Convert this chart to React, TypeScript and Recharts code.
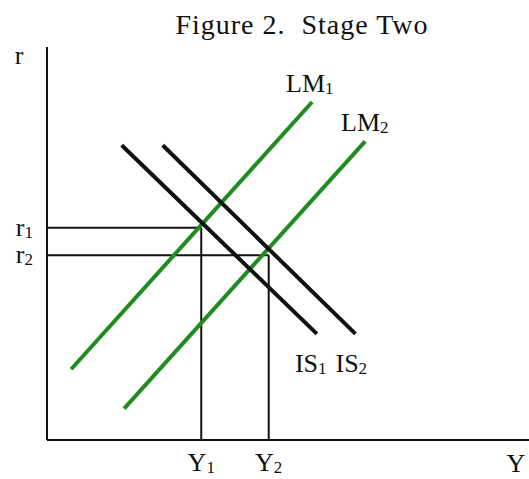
import { LineChart, Line, XAxis, YAxis, ReferenceLine, ReferenceDot, Label } from "recharts";

// curve end points (x = output Y, y = interest rate r)
const lm1 = [
  { x: 5, y: 18 },
  { x: 55, y: 86 },
];
const lm2 = [
  { x: 16, y: 8 },
  { x: 66, y: 76 },
];
const is1 = [
  { x: 15.5, y: 75 },
  { x: 56, y: 27 },
];
const is2 = [
  { x: 24, y: 75 },
  { x: 64, y: 27 },
];

// equilibrium levels
const yLevels = [32, 46];
const yNames = ["1", "2"];
const rLevels = [54, 47];
const rNames = ["1", "2"];

const title = "Figure 2.  Stage Two";
const font = "'Liberation Serif', 'DejaVu Serif', serif";
const green = "#1f8c1f";
const labelSize = 26;
const subSize = 17;

function Sub({ x, y, base, sub, anchor = "start" }: any) {
  return (
    <text x={x} y={y} textAnchor={anchor} fontFamily={font} fontSize={labelSize} fill="#111">
      <tspan>{base}</tspan>
      <tspan fontSize={subSize} dy={2}>
        {sub}
      </tspan>
    </text>
  );
}

function XTick({ x, y, payload }: any) {
  const i = yLevels.indexOf(payload.value);
  return <Sub x={x} y={y + 23} base="Y" sub={yNames[i]} anchor="middle" />;
}

function YTick({ x, y, payload }: any) {
  const i = rLevels.indexOf(payload.value);
  return <Sub x={x - 6} y={y + 8} base="r" sub={rNames[i]} anchor="end" />;
}

function curveLabel(base: string, sub: string, dx: number, dy: number) {
  return (props: any) => {
    const vb = props.viewBox;
    return <Sub x={vb.x + dx} y={vb.y + dy} base={base} sub={sub} />;
  };
}

export default function App() {
  return (
    <div style={{ position: "absolute", left: 0, top: 0, width: 529, height: 479, background: "#fff" }}>
      <div
        style={{
          position: "absolute",
          left: 0,
          width: 604,
          top: 9,
          textAlign: "center",
          fontFamily: font,
          fontSize: 28,
          letterSpacing: 1,
          color: "#111",
          whiteSpace: "pre",
          lineHeight: "32px",
        }}
      >
        {title}
      </div>
      <LineChart width={529} height={479} margin={{ top: 47, right: 0, bottom: 0, left: 0 }}>
        <XAxis
          type="number"
          dataKey="x"
          domain={[0, 100]}
          ticks={yLevels}
          tick={<XTick />}
          tickLine={false}
          axisLine={{ stroke: "#111", strokeWidth: 2 }}
          height={39}
          allowDataOverflow
        >
          <Label
            content={(props: any) => {
              const vb = props.viewBox;
              return (
                <text x={vb.x + vb.width - 13} y={vb.y + 32} textAnchor="middle" fontFamily={font} fontSize={labelSize} fill="#111">
                  Y
                </text>
              );
            }}
          />
        </XAxis>
        <YAxis
          type="number"
          domain={[0, 100]}
          ticks={rLevels}
          tick={<YTick />}
          tickLine={false}
          axisLine={{ stroke: "#111", strokeWidth: 2 }}
          width={47}
          allowDataOverflow
        >
          <Label
            content={(props: any) => {
              const vb = props.viewBox;
              return (
                <text x={vb.x + 19} y={vb.y + 17} textAnchor="middle" fontFamily={font} fontSize={labelSize} fill="#111">
                  r
                </text>
              );
            }}
          />
        </YAxis>

        <ReferenceLine segment={[{ x: 0, y: rLevels[0] }, { x: yLevels[0], y: rLevels[0] }]} stroke="#111" strokeWidth={2} />
        <ReferenceLine segment={[{ x: yLevels[0], y: 0 }, { x: yLevels[0], y: rLevels[0] }]} stroke="#111" strokeWidth={2} />
        <ReferenceLine segment={[{ x: 0, y: rLevels[1] }, { x: yLevels[1], y: rLevels[1] }]} stroke="#111" strokeWidth={2} />
        <ReferenceLine segment={[{ x: yLevels[1], y: 0 }, { x: yLevels[1], y: rLevels[1] }]} stroke="#111" strokeWidth={2} />

        <Line data={lm1} dataKey="y" stroke={green} strokeWidth={4} dot={false} isAnimationActive={false} />
        <Line data={lm2} dataKey="y" stroke={green} strokeWidth={4} dot={false} isAnimationActive={false} />
        <Line data={is1} dataKey="y" stroke="#111" strokeWidth={4} dot={false} isAnimationActive={false} />
        <Line data={is2} dataKey="y" stroke="#111" strokeWidth={4} dot={false} isAnimationActive={false} />

        <ReferenceDot x={lm1[1].x} y={lm1[1].y} r={0} stroke="none" label={curveLabel("LM", "1", -26, -10)} />
        <ReferenceDot x={lm2[1].x} y={lm2[1].y} r={0} stroke="none" label={curveLabel("LM", "2", -24, -10)} />
        <ReferenceDot x={is1[1].x} y={is1[1].y} r={0} stroke="none" label={curveLabel("IS", "1", -22, 38)} />
        <ReferenceDot x={is2[1].x} y={is2[1].y} r={0} stroke="none" label={curveLabel("IS", "2", -20, 38)} />
      </LineChart>
    </div>
  );
}
